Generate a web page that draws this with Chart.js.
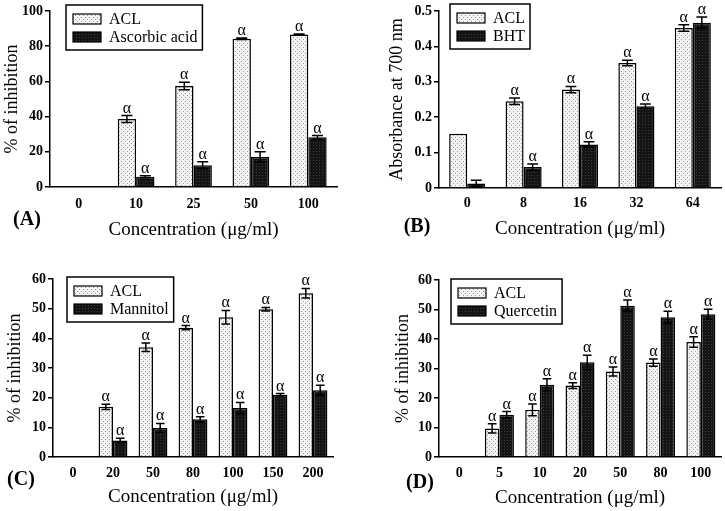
<!DOCTYPE html>
<html>
<head>
<meta charset="utf-8">
<script src="https://cdn.jsdelivr.net/npm/chart.js@4.4.1/dist/chart.umd.min.js"></script>
<style>
html, body { margin: 0; padding: 0; background: #fff; }
#wrap { position: relative; width: 725px; height: 511px; overflow: hidden; }
canvas { position: absolute; }
</style>
</head>
<body>
<div id="wrap">
  <canvas id="chartA" width="362" height="250" style="left:0;top:0;width:362px;height:250px"></canvas>
  <canvas id="chartB" width="363" height="250" style="left:362px;top:0;width:363px;height:250px"></canvas>
  <canvas id="chartC" width="362" height="261" style="left:0;top:250px;width:362px;height:261px"></canvas>
  <canvas id="chartD" width="363" height="261" style="left:362px;top:250px;width:363px;height:261px"></canvas>
</div>
<script>
// ---- Data ----

// (A) % inhibition vs ascorbic acid
const concA = ['0', '10', '25', '50', '100'];
const aclA = [0, 38.6, 57.4, 84.2, 86.6];
const aclErrA = [0, 2, 2.1, 0.4, 0.4];
const ascorbicA = [0, 5.8, 12.4, 17, 28.2];
const ascorbicErrA = [0, 0.6, 2, 3, 1];

// (B) absorbance at 700 nm vs BHT
const concB = ['0', '8', '16', '32', '64'];
const aclB = [0.153, 0.245, 0.278, 0.353, 0.452];
const aclErrB = [0, 0.009, 0.009, 0.008, 0.009];
const bhtB = [0.013, 0.059, 0.123, 0.231, 0.467];
const bhtErrB = [0.009, 0.009, 0.008, 0.006, 0.016];

// (C) % inhibition vs mannitol
const concC = ['0', '20', '50', '80', '100', '150', '200'];
const aclC = [0, 16.9, 37, 43.6, 47.1, 49.8, 55.2];
const aclErrC = [0, 0.85, 1.4, 0.7, 2.3, 0.6, 1.6];
const mannitolC = [0, 5.6, 9.8, 12.7, 16.5, 21, 22.5];
const mannitolErrC = [0, 0.7, 1.5, 0.9, 1.9, 0.4, 1.7];

// (D) % inhibition vs quercetin
const concD = ['0', '5', '10', '20', '50', '80', '100'];
const aclD = [0, 9.7, 16, 24.2, 29, 32, 39];
const aclErrD = [0, 1.6, 2, 1, 1.5, 1.2, 1.8];
const quercetinD = [0, 14.3, 24.5, 32.1, 51.3, 47.4, 48.4];
const quercetinErrD = [0, 1.1, 2, 2.4, 1.9, 2, 1.7];

const SERIF = "'Liberation Serif', 'Times New Roman', serif";
const X_TITLE = 'Concentration (\u03bcg/ml)';

// ---- Fill patterns ----

function dotPattern() {
    const c = document.createElement('canvas');
    c.width = 4; c.height = 4;
    const g = c.getContext('2d');
    g.fillStyle = '#f4f4f4';
    g.fillRect(0, 0, 4, 4);
    g.fillStyle = '#9a9a9a';
    g.fillRect(1, 1, 1, 1);
    g.fillRect(3, 3, 1, 1);
    return g.createPattern(c, 'repeat');
}

function darkPattern() {
    const c = document.createElement('canvas');
    c.width = 3; c.height = 3;
    const g = c.getContext('2d');
    g.fillStyle = '#141414';
    g.fillRect(0, 0, 3, 3);
    g.fillStyle = '#3a3a3a';
    g.fillRect(1, 1, 1, 1);
    return g.createPattern(c, 'repeat');
}

const lightFill = dotPattern();
const darkFill = darkPattern();

// ---- One panel ----

function makePanel(id, p) {
    const canvas = document.getElementById(id);
    const W = canvas.width, H = canvas.height, a = p.area;
    const xlh = 19 * 1.2, ylh = 18 * 1.2;

    const panelExtras = {
        id: 'panelExtras',
        afterDatasetsDraw(chart) {
            const ctx = chart.ctx, ys = chart.scales.y;
            ctx.save();
            ctx.strokeStyle = '#000';
            ctx.fillStyle = '#000';
            ctx.lineWidth = 1.5;
            p.series.forEach((s, di) => {
                chart.getDatasetMeta(di).data.forEach((bar, i) => {
                    const v = s.data[i], e = s.err[i];
                    if (!v) return;
                    const { x, width } = bar.getProps(['x', 'width'], true);
                    const yTop = ys.getPixelForValue(v + e);
                    const yBot = ys.getPixelForValue(v - e);
                    if (e > 0) {
                        const cw = width * 0.3;
                        ctx.beginPath();
                        ctx.moveTo(x, yBot); ctx.lineTo(x, yTop);
                        ctx.moveTo(x - cw, yTop); ctx.lineTo(x + cw, yTop);
                        ctx.moveTo(x - cw, yBot); ctx.lineTo(x + cw, yBot);
                        ctx.stroke();
                    }
                    // significance mark on all treated groups
                    if (i > 0) {
                        ctx.font = '16px ' + SERIF;
                        ctx.textAlign = 'center';
                        ctx.textBaseline = 'alphabetic';
                        ctx.fillText('\u03b1', x, yTop - 3);
                    }
                });
            });
            ctx.restore();
        },
        afterDraw(chart) {
            const ctx = chart.ctx;
            ctx.save();
            // legend box
            ctx.font = '16px ' + SERIF;
            const tw = Math.max(...p.series.map(s => ctx.measureText(s.label).width));
            const bx = p.legend.x, by = p.legend.y;
            const bw = 7 + 28 + 8 + tw + 5, bh = 45;
            ctx.lineWidth = 1.5;
            ctx.strokeStyle = '#000';
            ctx.fillStyle = '#fff';
            ctx.fillRect(bx, by, bw, bh);
            ctx.strokeRect(bx, by, bw, bh);
            p.series.forEach((s, k) => {
                const sy = by + 9 + k * 18;
                ctx.fillStyle = s.fill;
                ctx.fillRect(bx + 7, sy, 28, 10);
                ctx.lineWidth = 1.2;
                ctx.strokeRect(bx + 7, sy, 28, 10);
                ctx.fillStyle = '#000';
                ctx.textAlign = 'left';
                ctx.textBaseline = 'middle';
                ctx.fillText(s.label, bx + 43, sy + 6);
            });
            // panel letter
            ctx.font = 'bold 20px ' + SERIF;
            ctx.textAlign = 'center';
            ctx.textBaseline = 'middle';
            ctx.fillText('(' + p.letter + ')', p.letterAt.x, p.letterAt.y);
            ctx.restore();
        }
    };

    return new Chart(canvas, {
        type: 'bar',
        data: {
            labels: p.labels,
            datasets: p.series.map(s => ({
                label: s.label,
                data: s.data,
                backgroundColor: s.fill,
                borderColor: '#000',
                borderWidth: 1.5,
                categoryPercentage: p.catPct,
                barPercentage: 1,
            }))
        },
        options: {
            responsive: false,
            animation: false,
            devicePixelRatio: 1,
            layout: { padding: { left: 0, top: a.top, right: W - a.right, bottom: 0 } },
            plugins: { legend: { display: false }, tooltip: { enabled: false } },
            scales: {
                x: {
                    offset: true,
                    grid: { display: false, drawTicks: false, tickLength: 0 },
                    border: { display: true, color: '#000', width: 1.5 },
                    ticks: {
                        color: '#000',
                        font: { family: SERIF, size: 14, weight: 'bold' },
                        padding: p.xTickPad,
                        maxRotation: 0,
                        autoSkip: false,
                    },
                    title: {
                        display: true,
                        text: X_TITLE,
                        color: '#000',
                        font: { family: SERIF, size: 19 },
                        padding: { top: 0, bottom: p.xTitleY - xlh / 2 },
                    },
                    afterFit: s => { s.height = H - a.bottom; },
                },
                y: {
                    min: 0,
                    max: p.yMax,
                    ticks: {
                        stepSize: p.yStep,
                        color: '#000',
                        font: { family: SERIF, size: 14, weight: 'bold' },
                        padding: 2,
                    },
                    grid: {
                        display: true,
                        drawOnChartArea: false,
                        drawTicks: true,
                        tickLength: 5,
                        color: '#000',
                        lineWidth: 1.5,
                    },
                    border: { display: true, color: '#000', width: 1.5 },
                    title: {
                        display: true,
                        text: p.yTitle,
                        color: '#000',
                        font: { family: SERIF, size: 18 },
                        padding: { top: p.yTitleX - ylh / 2, bottom: 0 },
                    },
                    afterFit: s => { s.width = a.left; },
                }
            }
        },
        plugins: [panelExtras]
    });
}

makePanel('chartA', {
    letter: 'A',
    labels: concA,
    series: [
        { label: 'ACL', data: aclA, err: aclErrA, fill: lightFill },
        { label: 'Ascorbic acid', data: ascorbicA, err: ascorbicErrA, fill: darkFill },
    ],
    yMax: 100, yStep: 20,
    yTitle: '% of inhibition',
    area: { left: 50, top: 11, right: 337, bottom: 187 },
    catPct: 0.64,
    xTickPad: 9, xTitleY: 20, yTitleX: 12,
    legend: { x: 66, y: 5 },
    letterAt: { x: 27, y: 220 },
});

makePanel('chartB', {
    letter: 'B',
    labels: concB,
    series: [
        { label: 'ACL', data: aclB, err: aclErrB, fill: lightFill },
        { label: 'BHT', data: bhtB, err: bhtErrB, fill: darkFill },
    ],
    yMax: 0.5, yStep: 0.1,
    yTitle: 'Absorbance at 700 nm',
    area: { left: 77, top: 11, right: 359, bottom: 188 },
    catPct: 0.64,
    xTickPad: 7, xTitleY: 21, yTitleX: 35,
    legend: { x: 88, y: 4 },
    letterAt: { x: 55, y: 227 },
});

makePanel('chartC', {
    letter: 'C',
    labels: concC,
    series: [
        { label: 'ACL', data: aclC, err: aclErrC, fill: lightFill },
        { label: 'Mannitol', data: mannitolC, err: mannitolErrC, fill: darkFill },
    ],
    yMax: 60, yStep: 10,
    yTitle: '% of inhibition',
    area: { left: 53, top: 29, right: 333, bottom: 207 },
    catPct: 0.72,
    xTickPad: 8, xTitleY: 14, yTitleX: 15,
    legend: { x: 67, y: 27 },
    letterAt: { x: 21, y: 230 },
});

makePanel('chartD', {
    letter: 'D',
    labels: concD,
    series: [
        { label: 'ACL', data: aclD, err: aclErrD, fill: lightFill },
        { label: 'Quercetin', data: quercetinD, err: quercetinErrD, fill: darkFill },
    ],
    yMax: 60, yStep: 10,
    yTitle: '% of inhibition',
    area: { left: 77, top: 30, right: 359, bottom: 207 },
    catPct: 0.72,
    xTickPad: 8, xTitleY: 13, yTitleX: 41,
    legend: { x: 89, y: 29 },
    letterAt: { x: 58, y: 233 },
});
</script>
</body>
</html>
